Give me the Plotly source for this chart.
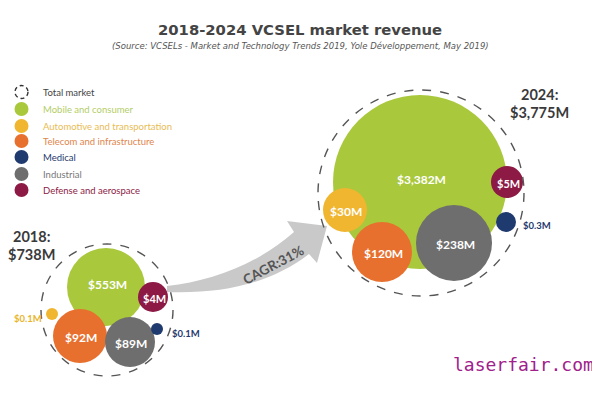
import plotly.graph_objects as go

# ---------------- data ----------------
title = "2018-2024 VCSEL market revenue"
subtitle = "(Source: VCSELs - Market and Technology Trends 2019, Yole Développement, May 2019)"
legend_labels = ["Total market", "Mobile and consumer", "Automotive and transportation",
                 "Telecom and infrastructure", "Medical", "Industrial", "Defense and aerospace"]
categories = legend_labels[1:]
years = [2018, 2024]
rev_2018 = [553, 0.1, 92, 0.1, 89, 4]      # $M, same order as categories
rev_2024 = [3382, 30, 120, 0.3, 238, 5]
totals = [738, 3775]
cagr_pct = 31

# ---------------- styles / layout geometry ----------------
fill_colors = ["#a9c83c", "#f0b630", "#e8702e", "#1f3a6e", "#6e6e6e", "#8c1a45"]
text_colors = ["#b3cd66", "#e8bc55", "#e0854c", "#1f3a6e", "#777777", "#8c1a45"]

# bubble layout (centre x, centre y, radius) in page pixels, per category
geo_2018 = [(106, 287, 39), (52, 314, 6), (80, 336, 27), (157, 329, 6), (130, 342, 25), (153, 297, 15)]
geo_2024 = [(420, 182, 87), (345, 210, 22), (382, 252, 30), (506, 222, 10), (454, 243, 38), (507, 182, 16)]
total_geo = [(107, 310, 66), (421, 193, 103)]
# outside-label positions for tiny bubbles
outside_2018 = {1: (28, 318, "center"), 3: (186, 333, "center")}
outside_2024 = {3: (537, 225, "center")}
draw_order = [0, 1, 2, 4, 3, 5]
PAGE_OFFSET = 8  # default body margin of the html page


def fmt(v):
    return f"${v:,.0f}M" if v >= 1 else f"${v}M"


fig = go.Figure()
shapes = []
annotations = []

# arrow (drawn first, underneath)
shapes.append(dict(type="path", xref="x", yref="y", layer="below",
                   path="M 167,286 C 212,281 256,265 294,232 L 287,221 L 327,226 L 317,263 L 309,254 "
                        "C 270,284 222,294 167,292 Z",
                   fillcolor="#c9c9c9", line=dict(width=0)))
annotations.append(dict(x=273, y=265, xref="x", yref="y", text=f"<b>CAGR:{cagr_pct}%</b>",
                        showarrow=False, textangle=-28,
                        font=dict(family="Lato", size=13.5, color="#555555")))


def add_year(values, geo, outside):
    for i in draw_order:
        cx, cy, r = geo[i]
        shapes.append(dict(type="circle", xref="x", yref="y", x0=cx - r, x1=cx + r, y0=cy - r, y1=cy + r,
                           fillcolor=fill_colors[i], line=dict(width=0), layer="above"))
        if i in outside:
            ox, oy, anc = outside[i]
            annotations.append(dict(x=ox, y=oy, xref="x", yref="y", text=f"<b>{fmt(values[i])}</b>",
                                    showarrow=False, xanchor=anc,
                                    font=dict(family="Lato", size=9.5, color=fill_colors[i] if i != 1 else "#e8b52c")))
        else:
            dy = 1 if i else -3
            annotations.append(dict(x=cx + 1, y=cy + dy, xref="x", yref="y", text=f"<b>{fmt(values[i])}</b>",
                                    showarrow=False,
                                    font=dict(family="Lato", size=12 if r > 16 else 11, color="white")))


add_year(rev_2018, geo_2018, outside_2018)
add_year(rev_2024, geo_2024, outside_2024)

for (cx, cy, r) in total_geo:
    shapes.append(dict(type="circle", xref="x", yref="y", x0=cx - r, x1=cx + r, y0=cy - r, y1=cy + r,
                       line=dict(color="#555555", width=1.4, dash="dash"), layer="above"))

# year totals
for (x, y), yr, tot in zip([(31, 236), (539, 94)], years, totals):
    annotations.append(dict(x=x, y=y, xref="x", yref="y", text=f"<b>{yr}:</b>", showarrow=False,
                            font=dict(family="Lato", size=14.5, color="#3a3a3a")))
    annotations.append(dict(x=x, y=y + 18, xref="x", yref="y", text=f"<b>{fmt(tot)}</b>", showarrow=False,
                            font=dict(family="Lato", size=14.5, color="#3a3a3a")))

# legend
leg_y = [92, 109, 126, 141, 157, 174, 190]
for k, (lab, ly) in enumerate(zip(legend_labels, leg_y)):
    if k == 0:
        shapes.append(dict(type="circle", xref="x", yref="y", x0=15, x1=28, y0=ly - 6.5, y1=ly + 6.5,
                           line=dict(color="#333333", width=1.4, dash="4px,3px")))
        col = "#444444"
    else:
        shapes.append(dict(type="circle", xref="x", yref="y", x0=14.5, x1=28.5, y0=ly - 7, y1=ly + 7,
                           fillcolor=fill_colors[k - 1], line=dict(width=0)))
        col = text_colors[k - 1]
    annotations.append(dict(x=41, y=ly, xref="x", yref="y", text=lab, showarrow=False, xanchor="left",
                            font=dict(family="Lato", size=9.5, color=col)))

# titles
annotations.append(dict(x=300, y=29, xref="x", yref="y", text=f"<b>{title}</b>", showarrow=False,
                        font=dict(family="DejaVu Sans", size=14.8, color="#444444")))
annotations.append(dict(x=300, y=46, xref="x", yref="y", text=f"<i>{subtitle}</i>", showarrow=False,
                        font=dict(family="DejaVu Sans", size=8.5, color="#555555")))
# watermark
annotations.append(dict(x=523, y=364, xref="x", yref="y", text="laserfair.com", showarrow=False,
                        font=dict(family="DejaVu Sans Mono", size=18, color="#a0208c")))

fig.update_layout(
    width=600, height=396, margin=dict(l=0, r=0, t=0, b=0),
    paper_bgcolor="white", plot_bgcolor="white", showlegend=False,
    xaxis=dict(range=[PAGE_OFFSET, 600 + PAGE_OFFSET], visible=False, fixedrange=True),
    yaxis=dict(range=[396 + PAGE_OFFSET, PAGE_OFFSET], visible=False, fixedrange=True),
    shapes=shapes, annotations=annotations,
)
fig.write_html("out.html")
